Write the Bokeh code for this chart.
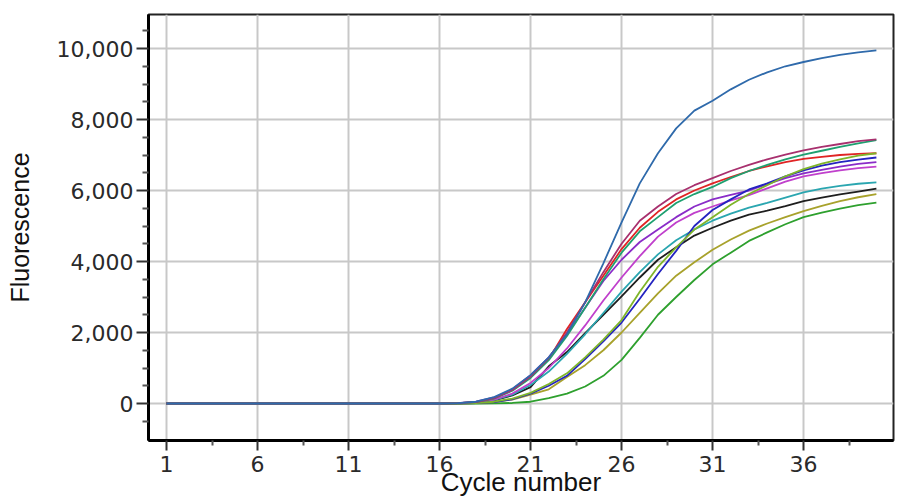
from bokeh.plotting import figure
from bokeh.models import FixedTicker, NumeralTickFormatter, Range1d
from bokeh.embed import file_html
from bokeh.resources import INLINE

cycles = list(range(1, 41))
base = [0] * 16  # cycles 1..16

# values for cycles 17..40
blue    = [10, 50, 180, 420, 800, 1300, 1950, 2850, 3950, 5100, 6200, 7050, 7750, 8250, 8530, 8850, 9120, 9330, 9500, 9620, 9730, 9820, 9890, 9950]
maroon  = [10, 40, 150, 380, 760, 1280, 2000, 2850, 3700, 4500, 5150, 5550, 5900, 6150, 6350, 6550, 6720, 6880, 7010, 7130, 7230, 7310, 7390, 7440]
tealgrn = [10, 40, 140, 360, 720, 1220, 1900, 2700, 3500, 4250, 4850, 5250, 5650, 5900, 6100, 6350, 6550, 6720, 6880, 7010, 7120, 7230, 7330, 7420]
red     = [10, 40, 150, 380, 750, 1250, 2100, 2850, 3600, 4350, 4950, 5400, 5750, 6000, 6200, 6380, 6550, 6680, 6800, 6890, 6950, 7000, 7030, 7050]
lime    = [0, 10, 50, 140, 300, 550, 850, 1300, 1800, 2350, 3150, 3850, 4400, 4900, 5250, 5600, 5900, 6150, 6400, 6600, 6760, 6880, 6980, 7050]
navy    = [0, 10, 40, 120, 280, 500, 780, 1250, 1750, 2280, 2950, 3650, 4300, 5000, 5450, 5750, 6030, 6200, 6400, 6570, 6700, 6800, 6870, 6930]
purple  = [10, 50, 170, 400, 800, 1300, 1950, 2700, 3450, 4050, 4550, 4900, 5250, 5550, 5750, 5880, 6000, 6180, 6350, 6480, 6580, 6670, 6750, 6800]
magenta = [5, 30, 110, 280, 580, 1000, 1550, 2200, 2900, 3550, 4150, 4700, 5100, 5370, 5550, 5720, 5870, 6060, 6250, 6400, 6490, 6570, 6630, 6670]
cyan    = [5, 30, 100, 250, 520, 900, 1400, 1950, 2550, 3150, 3700, 4200, 4600, 4900, 5150, 5350, 5520, 5650, 5800, 5950, 6050, 6130, 6190, 6230]
black   = [5, 25, 90, 230, 460, 1050, 1450, 1980, 2500, 3020, 3550, 4050, 4400, 4730, 4950, 5150, 5320, 5430, 5560, 5700, 5800, 5890, 5970, 6050]
olive   = [0, 10, 40, 110, 250, 400, 750, 1080, 1500, 2000, 2550, 3100, 3600, 3980, 4330, 4620, 4870, 5070, 5250, 5420, 5570, 5700, 5810, 5900]
green   = [0, 0, 5, 15, 50, 150, 280, 480, 780, 1230, 1850, 2500, 3000, 3480, 3920, 4250, 4580, 4820, 5050, 5250, 5380, 5490, 5590, 5660]

series = [
    (green, "#2ea02e"),
    (olive, "#a8a22c"),
    (black, "#1e1e1e"),
    (cyan, "#2aa6b0"),
    (magenta, "#c040cc"),
    (purple, "#8a2cc8"),
    (navy, "#2424c0"),
    (red, "#e02424"),
    (lime, "#7fb52a"),
    (tealgrn, "#1fa070"),
    (maroon, "#a8306e"),
    (blue, "#2f6aab"),
]

x_ticks = [1, 6, 11, 16, 21, 26, 31, 36]
x_minor = [3.5, 8.5, 13.5, 18.5, 23.5, 28.5, 33.5, 38.5]
y_ticks = [0, 2000, 4000, 6000, 8000, 10000]
y_minor = [-500, 500, 1000, 1500, 2500, 3000, 3500, 4500, 5000, 5500,
           6500, 7000, 7500, 8500, 9000, 9500, 10500]

p = figure(width=900, height=503, output_backend="svg", toolbar_location=None,
           x_range=Range1d(0.01, 40.94), y_range=Range1d(-1042, 10958),
           min_border_left=148, min_border_right=7, min_border_top=14,
           min_border_bottom=63)

for vals, col in series:
    p.line(cycles, base + vals, line_color=col, line_width=1.8)

p.xaxis.ticker = FixedTicker(ticks=x_ticks, minor_ticks=x_minor)
p.yaxis.ticker = FixedTicker(ticks=y_ticks, minor_ticks=y_minor)
p.yaxis.formatter = NumeralTickFormatter(format="0,0")

for ax in (p.xaxis[0], p.yaxis[0]):
    ax.axis_line_color = "black"
    ax.axis_line_width = 3
    ax.major_tick_line_color = "#333333"
    ax.major_tick_line_width = 2
    ax.minor_tick_line_color = "#555555"
    ax.minor_tick_line_width = 2
    ax.major_label_text_font = "DejaVu Sans"
    ax.major_label_text_font_size = "22px"
    ax.major_label_text_color = "#2a2a2a"
    ax.axis_label_text_font = "Liberation Sans"
    ax.axis_label_text_font_style = "normal"
    ax.axis_label_text_color = "#111111"

p.yaxis.axis_label_text_font_size = "25px"
p.xaxis.axis_label_text_font_size = "26px"

p.yaxis.major_tick_out = 12
p.yaxis.major_tick_in = 0
p.yaxis.minor_tick_out = 6
p.yaxis.minor_tick_in = 0
p.yaxis.major_label_standoff = 3
p.yaxis.axis_label = "Fluorescence"
p.yaxis.axis_label_standoff = 20

p.xaxis.major_tick_out = 10
p.xaxis.major_tick_in = 0
p.xaxis.minor_tick_out = 5
p.xaxis.minor_tick_in = 0
p.xaxis.major_label_standoff = 5
p.xaxis.axis_label = "Cycle number"
p.xaxis.axis_label_standoff = -8

p.xgrid.grid_line_color = "#c8c8c8"
p.ygrid.grid_line_color = "#c8c8c8"
p.xgrid.grid_line_width = 2
p.ygrid.grid_line_width = 2

p.outline_line_color = "#222222"
p.outline_line_width = 2
p.background_fill_color = "white"
p.border_fill_color = "white"

open("out.html", "w").write(file_html(p, INLINE))
